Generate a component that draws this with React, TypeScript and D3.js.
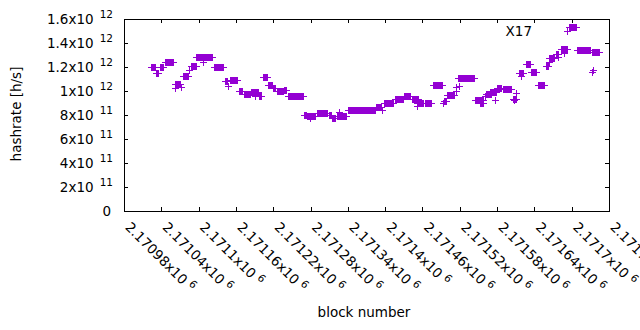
import React from "react";
import * as d3 from "d3";

// runs of consecutive blocks that share one hashrate estimate
const blockFrom = [
  2171025, 2171032, 2171038, 2171046, 2171063, 2171063, 2171073, 2171075, 2171086, 2171089,
  2171097, 2171108, 2171126, 2171144, 2171148, 2171152, 2171166, 2171173, 2171185, 2171192,
  2171198, 2171205, 2171213, 2171221, 2171227, 2171238, 2171245, 2171270, 2171275, 2171280,
  2171291, 2171311, 2171315, 2171326, 2171323, 2171341, 2171386, 2171396, 2171399, 2171417,
  2171431, 2171444, 2171452, 2171452, 2171465, 2171478, 2171495, 2171494, 2171500, 2171514,
  2171515, 2171518, 2171519, 2171545, 2171553, 2171561, 2171563, 2171569, 2171577, 2171580,
  2171590, 2171606, 2171608, 2171612, 2171616, 2171619, 2171627, 2171635, 2171646, 2171659,
  2171664, 2171665, 2171675, 2171678, 2171683, 2171689, 2171696, 2171709, 2171734, 2171733,
  2171735,
];
const blockTo = [
  2171031, 2171036, 2171044, 2171060, 2171071, 2171063, 2171073, 2171084, 2171086, 2171096,
  2171123, 2171108, 2171140, 2171147, 2171148, 2171163, 2171171, 2171184, 2171197, 2171192,
  2171201, 2171211, 2171219, 2171224, 2171237, 2171242, 2171269, 2171274, 2171288, 2171280,
  2171307, 2171314, 2171320, 2171326, 2171338, 2171384, 2171394, 2171396, 2171413, 2171429,
  2171441, 2171453, 2171461, 2171452, 2171474, 2171492, 2171498, 2171494, 2171511, 2171514,
  2171515, 2171543, 2171519, 2171558, 2171558, 2171561, 2171571, 2171579, 2171577, 2171587,
  2171603, 2171611, 2171608, 2171612, 2171622, 2171619, 2171633, 2171643, 2171656, 2171662,
  2171673, 2171665, 2171678, 2171678, 2171693, 2171689, 2171707, 2171731, 2171744, 2171733,
  2171735,
];
const hashrate = [
  1.196e12, 1.145e12, 1.193e12, 1.239e12, 1.058e12, 1.025e12, 1.03e12, 1.119e12, 1.175e12, 1.203e12,
  1.281e12, 1.24e12, 1.198e12, 1.079e12, 1.04e12, 1.086e12, 0.994e12, 0.967e12, 0.986e12, 0.955e12,
  0.958e12, 1.114e12, 1.05e12, 1.021e12, 0.994e12, 1.008e12, 0.954e12, 0.8e12, 0.7875e12, 0.767e12,
  0.814e12, 0.792e12, 0.767e12, 0.817e12, 0.786e12, 0.836e12, 0.864e12, 0.84e12, 0.892e12, 0.931e12,
  0.956e12, 0.931e12, 0.9e12, 0.875e12, 0.892e12, 1.042e12, 0.912e12, 0.9e12, 0.9625e12, 0.992e12,
  1.033e12, 1.106e12, 1.04e12, 0.919e12, 0.9e12, 0.953e12, 0.973e12, 0.986e12, 0.925e12, 1.025e12,
  1.014e12, 0.933e12, 0.92e12, 0.981e12, 1.146e12, 1.12e12, 1.221e12, 1.154e12, 1.048e12, 1.204e12,
  1.272e12, 1.24e12, 1.308e12, 1.283e12, 1.347e12, 1.31e12, 1.529e12, 1.3375e12, 1.3225e12, 1.1525e12,
  1.175e12,
];

const seriesName = "X17";
const yTicks = [0, 2e11, 4e11, 6e11, 8e11, 1e12, 1.2e12, 1.4e12, 1.6e12];
const xTicks = d3.range(2170980, 2171761, 60);

const W = 640;
const H = 330;
const left = 124;
const right = 609;
const top = 19;
const bottom = 211;
const color = "#9400D3";
const font = "'DejaVu Sans', sans-serif";
const fs = 13.5;

// gnuplot style "1.2x10^12"
function sci(v: number) {
  if (v === 0) return { m: "0", e: "" };
  const e = Math.floor(Math.log10(v) + 1e-9);
  const m = d3.format(".6~g")(v / Math.pow(10, e));
  return { m: m + "x10", e: String(e) };
}

const App: React.FC = () => {
  const x = d3.scaleLinear().domain([2170980, 2171760]).range([left, right]);
  const y = d3.scaleLinear().domain([0, 1.6e12]).range([bottom, top]);
  const half = 3.5;

  return (
    <svg
      width={W}
      height={H}
      style={{ position: "absolute", left: 0, top: 0, background: "#fff" }}
      fontFamily={font}
    >
      {/* points: '+' markers, runs of neighbouring blocks merge into bars */}
      <g fill={color} shapeRendering="crispEdges">
        {hashrate.map((v, i) => {
          const x0 = x(blockFrom[i]);
          const x1 = x(blockTo[i]);
          const cy = y(v);
          return (
            <g key={i}>
              <rect x={x0 - 0.5} y={cy - half} width={x1 - x0 + 1} height={half * 2} />
              <rect x={x0 - half} y={cy - 0.5} width={x1 - x0 + half * 2} height={1} />
            </g>
          );
        })}
      </g>

      {/* frame */}
      <rect
        x={left + 0.5}
        y={top + 0.5}
        width={right - left}
        height={bottom - top}
        fill="none"
        stroke="#000"
        strokeWidth={1}
        shapeRendering="crispEdges"
      />

      {/* ticks, mirrored on all four sides */}
      <g stroke="#000" shapeRendering="crispEdges">
        {yTicks.map((t) => (
          <g key={t}>
            <line x1={left} x2={left + 4} y1={Math.round(y(t)) + 0.5} y2={Math.round(y(t)) + 0.5} />
            <line x1={right - 4} x2={right} y1={Math.round(y(t)) + 0.5} y2={Math.round(y(t)) + 0.5} />
          </g>
        ))}
        {xTicks.map((t) => (
          <g key={t}>
            <line x1={Math.round(x(t)) + 0.5} x2={Math.round(x(t)) + 0.5} y1={bottom} y2={bottom - 4} />
            <line x1={Math.round(x(t)) + 0.5} x2={Math.round(x(t)) + 0.5} y1={top} y2={top + 4} />
          </g>
        ))}
      </g>

      {/* y tick labels */}
      <g fontSize={fs} fill="#000">
        {yTicks.map((t) => {
          const s = sci(t);
          return (
            <text key={t} x={s.e ? 113 : 111} y={y(t) + 5} textAnchor="end">
              {s.m}
              {s.e && (
                <tspan dx={6} dy={-6} fontSize={10.5}>
                  {s.e}
                </tspan>
              )}
            </text>
          );
        })}
      </g>

      {/* x tick labels, rotated */}
      <g fontSize={fs} fill="#000">
        {xTicks.map((t) => {
          const s = sci(t);
          return (
            <text key={t} transform={`translate(${x(t) + 0.5},228) rotate(45)`}>
              {s.m}
              <tspan dx={4} dy={-5} fontSize={10.5}>
                {s.e}
              </tspan>
            </text>
          );
        })}
      </g>

      {/* axis titles */}
      <text x={364} y={317} textAnchor="middle" fontSize={fs}>
        block number
      </text>
      <text transform="translate(21,114) rotate(-90)" textAnchor="middle" fontSize={fs}>
        hashrate [h/s]
      </text>

      {/* key */}
      <text x={532} y={36} textAnchor="end" fontSize={fs}>
        {seriesName}
      </text>
      <g fill={color} shapeRendering="crispEdges">
        <rect x={567 - 0.5} y={31.5 - half} width={1} height={half * 2} />
        <rect x={567 - half} y={31} width={half * 2} height={1} />
      </g>
    </svg>
  );
};

export default App;
